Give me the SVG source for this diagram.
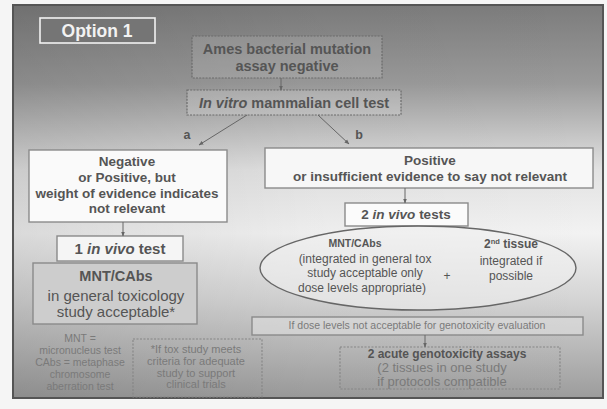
<svg xmlns="http://www.w3.org/2000/svg" width="607" height="409" viewBox="0 0 607 409">
<defs>
<linearGradient id="bg" x1="0" y1="0" x2="0" y2="1">
<stop offset="0" stop-color="#7c7c7c"/>
<stop offset="0.2" stop-color="#9a9a9a"/>
<stop offset="0.42" stop-color="#e2e2e2"/>
<stop offset="0.58" stop-color="#f2f2f2"/>
<stop offset="0.75" stop-color="#d4d4d4"/>
<stop offset="1" stop-color="#9c9c9c"/>
</linearGradient>
<linearGradient id="side" x1="0" y1="0" x2="1" y2="0">
<stop offset="0" stop-color="#000" stop-opacity="0.1"/>
<stop offset="0.5" stop-color="#000" stop-opacity="0.02"/>
<stop offset="1" stop-color="#000" stop-opacity="0"/>
</linearGradient>
<marker id="ah" viewBox="0 0 10 10" refX="9" refY="5" markerWidth="5" markerHeight="5" orient="auto">
<path d="M0,1 L10,5 L0,9 z" fill="#666"/>
</marker>
<style>
.t{font-family:"Liberation Sans",Arial,sans-serif;fill:#555;text-anchor:middle}
.b{font-weight:bold}
.it{font-style:italic}
.sm{fill:#7a7a7a}
.box{stroke:#8a8a8a;stroke-width:1.4}
.dot{stroke:#6a6a6a;stroke-width:1.2;stroke-dasharray:2 1.2}
.dash{fill:none;stroke:#858585;stroke-width:1.1;stroke-dasharray:2 1.5}
.con{stroke:#666;stroke-width:1;fill:none;marker-end:url(#ah)}
</style>
</defs>
<rect x="0" y="0" width="607" height="409" fill="#f5f5f5"/>
<rect x="13" y="5" width="590" height="393" fill="url(#bg)"/>
<rect x="13" y="5" width="590" height="393" fill="url(#side)"/>
<rect x="13" y="5" width="590" height="393" fill="none" stroke="#555" stroke-width="2"/>

<g id="option1">
<rect x="40" y="18" width="115" height="25" fill="#757575" stroke="#f2f2f2" stroke-width="1.6"/>
<text class="t b" x="97" y="37" font-size="17.5" style="fill:#f2f2f2">Option 1</text>
</g>

<g id="ames">
<rect x="192" y="36" width="190" height="42" fill="#ffffff" fill-opacity="0.12" class="dot"/>
<text class="t b" x="287" y="54" font-size="14.5">Ames bacterial mutation</text>
<text class="t b" x="287" y="71" font-size="14.5">assay negative</text>
</g>

<g id="invitro">
<rect x="187" y="90" width="214" height="25" fill="#ffffff" fill-opacity="0.18" class="dot"/>
<text class="t b" x="294" y="108" font-size="14.5"><tspan class="it">In vitro</tspan> mammalian cell test</text>
</g>

<g id="negative">
<rect x="29" y="150" width="198" height="72" fill="#fafafa" class="box"/>
<text class="t b" x="127" y="166" font-size="13.5">Negative</text>
<text class="t b" x="127" y="182" font-size="13.5">or Positive, but</text>
<text class="t b" x="127" y="198" font-size="13.5">weight of evidence indicates</text>
<text class="t b" x="127" y="213" font-size="13.5">not relevant</text>
</g>

<g id="invivo1">
<rect x="57" y="236" width="126" height="25" fill="#f5f5f5" class="box"/>
<text class="t b" x="120" y="254" font-size="15">1 <tspan class="it">in vivo</tspan> test</text>
</g>

<g id="mntbox">
<rect x="33" y="263" width="164" height="61" fill="#cdcdcd" class="box"/>
<text class="t b" x="116" y="281" font-size="14.5">MNT/CAbs</text>
<text class="t" x="116" y="301" font-size="15">in general toxicology</text>
<text class="t" x="116" y="317" font-size="15">study acceptable*</text>
</g>

<g id="abbrev">
<text class="t sm" x="80" y="342" font-size="10.5">MNT =</text>
<text class="t sm" x="80" y="354" font-size="10.5">micronucleus test</text>
<text class="t sm" x="80" y="366" font-size="10.5">CAbs = metaphase</text>
<text class="t sm" x="80" y="378" font-size="10.5">chromosome</text>
<text class="t sm" x="80" y="390" font-size="10.5">aberration test</text>
</g>

<g id="footnote">
<rect x="133" y="339" width="129" height="58" class="dash"/>
<text class="t sm" x="196" y="353" font-size="11">*If tox study meets</text>
<text class="t sm" x="196" y="365" font-size="11">criteria for adequate</text>
<text class="t sm" x="196" y="377" font-size="11">study to support</text>
<text class="t sm" x="196" y="388" font-size="11">clinical trials</text>
</g>

<g id="positive">
<rect x="265" y="148" width="328" height="40" fill="#f7f7f7" class="box"/>
<text class="t b" x="430" y="165" font-size="13.5">Positive</text>
<text class="t b" x="430" y="181" font-size="13.5">or insufficient evidence to say not relevant</text>
</g>

<g id="invivo2">
<rect x="345" y="203" width="123" height="23" fill="#fbfbfb" class="box"/>
<text class="t b" x="406" y="219" font-size="13.5">2 <tspan class="it">in vivo</tspan> tests</text>
</g>

<g id="ellipse">
<ellipse cx="418" cy="268" rx="158" ry="42" fill="#f0f0f0" fill-opacity="0.6" stroke="#666" stroke-width="1.4"/>
<text class="t b" x="355" y="247" font-size="10.5">MNT/CAbs</text>
<text class="t" x="365" y="263" font-size="12">(integrated in general tox</text>
<text class="t" x="365" y="277" font-size="12">study acceptable only</text>
<text class="t" x="362" y="292" font-size="12">dose levels appropriate)</text>
<text class="t" x="447" y="280" font-size="12">+</text>
<text class="t b" x="511" y="248" font-size="12">2<tspan font-size="7.5" dy="-4">nd</tspan><tspan dy="4"> tissue</tspan></text>
<text class="t" x="511" y="265" font-size="12">integrated if</text>
<text class="t" x="511" y="280" font-size="12">possible</text>
</g>

<g id="dose">
<rect x="252" y="317" width="331" height="18" fill="#dedede" fill-opacity="0.6" class="box"/>
<text class="t sm" x="417" y="329" font-size="10.5">If dose levels not acceptable for genotoxicity evaluation</text>
</g>

<g id="acute">
<rect x="340" y="347" width="220" height="42" class="dash"/>
<text class="t b" x="447" y="358" font-size="12">2 acute genotoxicity assays</text>
<text class="t sm" x="442" y="372" font-size="13">(2 tissues in one study</text>
<text class="t sm" x="442" y="386" font-size="13">if protocols compatible</text>
</g>

<g id="connectors">
<line class="con" x1="281" y1="78" x2="281" y2="90"/>
<line class="con" x1="247" y1="115" x2="199" y2="145"/>
<line class="con" x1="318" y1="115" x2="349" y2="144"/>
<line class="con" x1="123" y1="222" x2="123" y2="236"/>
<line class="con" x1="405" y1="188" x2="405" y2="203"/>
<line class="con" x1="425" y1="335" x2="425" y2="347"/>
<text class="t b" x="187" y="139" font-size="12.5">a</text>
<text class="t b" x="359" y="139" font-size="12.5">b</text>
</g>
</svg>
